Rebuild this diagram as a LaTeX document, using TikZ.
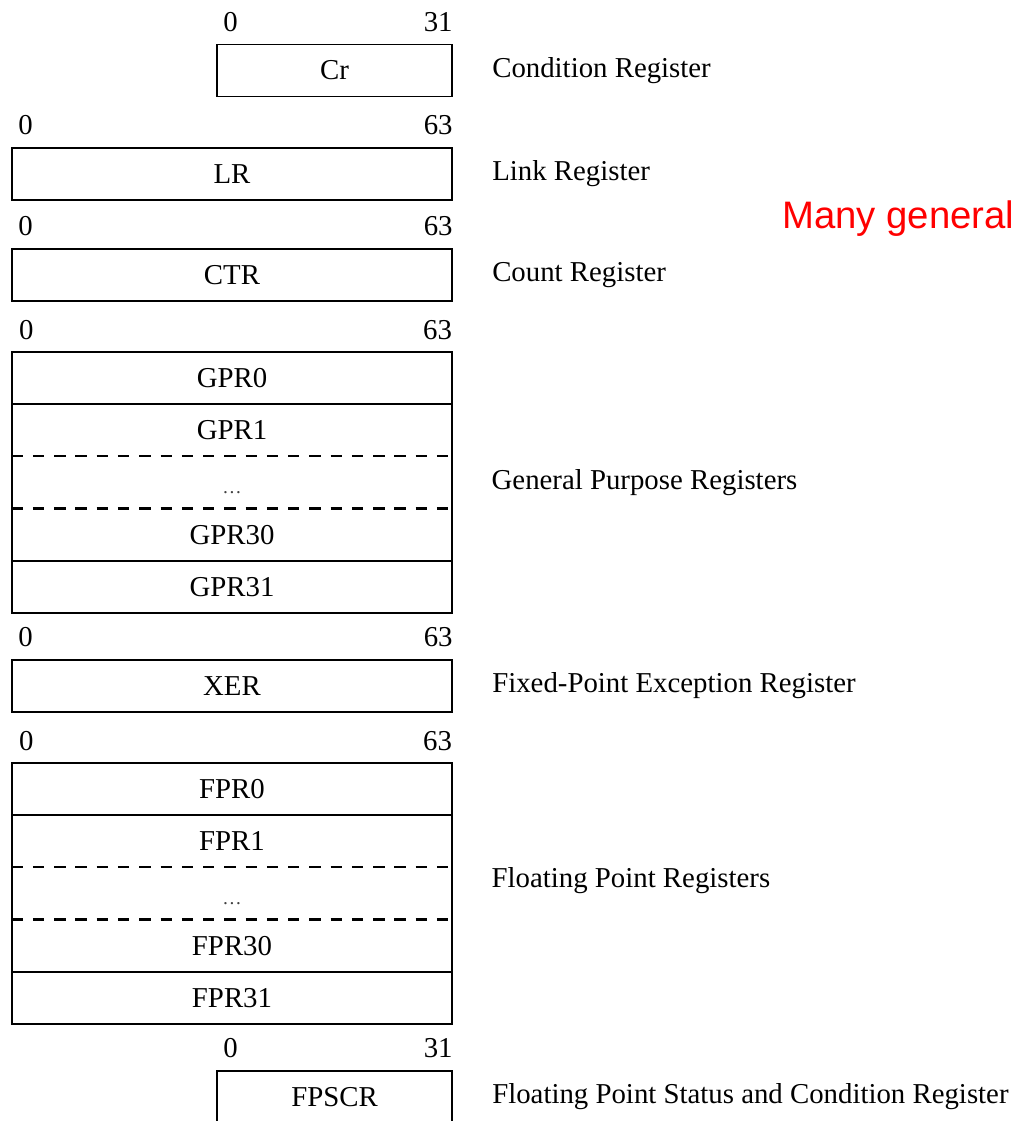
\documentclass[tikz,border=0pt]{standalone}
\usepackage{fontspec}
\setmainfont{Liberation Serif}
\newfontfamily\notefont{Liberation Sans}
\usetikzlibrary{positioning}
\newcommand{\regfont}{\fontsize{16.4}{19}\selectfont}
\definecolor{notered}{RGB}{255,0,0}
\tikzset{reg/.style={draw,line width=1.1pt,minimum width=8.8cm,minimum height=1.04cm,inner sep=0pt,font=\regfont},half/.style={reg,minimum width=4.7cm},row/.style={minimum width=8.8cm,minimum height=1.03cm,inner sep=0pt,font=\regfont},bitlo/.style={anchor=base west,xshift=0.14cm,yshift=0.25cm,inner sep=0pt,font=\regfont},bithi/.style={anchor=base east,yshift=0.25cm,inner sep=0pt,font=\regfont},desc/.style={anchor=west,inner sep=0pt,font=\regfont},sep/.style={line width=1.1pt},gap/.style={line width=1.3pt,dash pattern=on 6.5pt off 5.6pt},dots/.style={text=darkgray,font=\fontsize{11}{12}\selectfont,text depth=-0.2cm}}

\begin{document}
\begin{tikzpicture}[x=0.02cm,y=-0.02cm]
\useasboundingbox (0,0) rectangle (1013,1121);
% single registers
\node[half] (cr) at (334.5,70.5) {Cr};
\node[bitlo] at (cr.north west) {0};\node[bithi] at (cr.north east) {31};
\node[desc,right=0.78cm of cr] (crdesc) {Condition Register};
\node[reg] (lr) at (232,174) {LR};
\node[bitlo] at (lr.north west) {0};\node[bithi] at (lr.north east) {63};
\node[desc,right=0.78cm of lr] (lrdesc) {Link Register};
\node[reg] (ctr) at (232,275) {CTR};
\node[bitlo] at (ctr.north west) {0};\node[bithi] at (ctr.north east) {63};
\node[desc,right=0.78cm of ctr] (ctrdesc) {Count Register};
\node[anchor=west,inner sep=0pt,text=notered,font=\notefont\fontsize{21.8}{24}\selectfont] (note) at (782,219) {Many general};
% general purpose registers
\node[row] (gpr0) at (232,378) {GPR0};
\node[row,below=0pt of gpr0] (gpr1) {GPR1};
\node[row,below=0pt of gpr1] (gprdots) {};
\node[row,below=0pt of gprdots] (gpr30) {GPR30};
\node[row,below=0pt of gpr30] (gpr31) {GPR31};
\node[dots] at ([yshift=-0.2cm]gprdots.center) {\ldots};
\draw[sep] (gpr0.north west) rectangle (gpr31.south east);
\draw[sep] (gpr0.south west) -- (gpr0.south east);
\draw[gap] (gpr1.south west) -- (gpr1.south east);
\draw[gap] (gprdots.south west) -- (gprdots.south east);
\draw[sep] (gpr30.south west) -- (gpr30.south east);
\node[bitlo] at (gpr0.north west) {0};\node[bithi] at (gpr0.north east) {63};
\node[desc,right=0.78cm of gprdots] (gprdesc) {General Purpose Registers};
% fixed-point exception register
\node[reg] (xer) at (232,686) {XER};
\node[bitlo] at (xer.north west) {0};\node[bithi] at (xer.north east) {63};
\node[desc,right=0.78cm of xer] (xerdesc) {Fixed-Point Exception Register};
% floating point registers
\node[row] (fpr0) at (232,789) {FPR0};
\node[row,below=0pt of fpr0] (fpr1) {FPR1};
\node[row,below=0pt of fpr1] (fprdots) {};
\node[row,below=0pt of fprdots] (fpr30) {FPR30};
\node[row,below=0pt of fpr30] (fpr31) {FPR31};
\node[dots] at ([yshift=-0.2cm]fprdots.center) {\ldots};
\draw[sep] (fpr0.north west) rectangle (fpr31.south east);
\draw[sep] (fpr0.south west) -- (fpr0.south east);
\draw[gap] (fpr1.south west) -- (fpr1.south east);
\draw[gap] (fprdots.south west) -- (fprdots.south east);
\draw[sep] (fpr30.south west) -- (fpr30.south east);
\node[bitlo] at (fpr0.north west) {0};\node[bithi] at (fpr0.north east) {63};
\node[desc,right=0.78cm of fprdots,yshift=0.26cm] (fprdesc) {Floating Point Registers};
% status and condition
\node[half] (fpscr) at (334.5,1097) {FPSCR};
\node[bitlo] at (fpscr.north west) {0};\node[bithi] at (fpscr.north east) {31};
\node[desc,right=0.78cm of fpscr] (fpscrdesc) {Floating Point Status and Condition Register};
\end{tikzpicture}
\end{document}
